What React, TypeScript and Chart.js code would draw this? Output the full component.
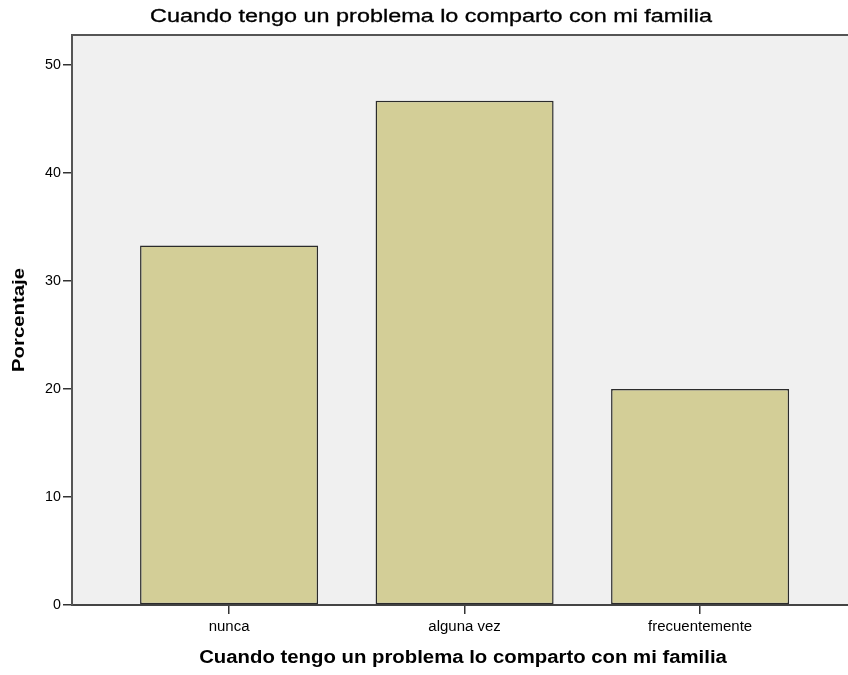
import React, { useEffect, useRef } from "react";
import { Chart, registerables } from "chart.js";

Chart.register(...registerables);

const chartTitle = "Cuando tengo un problema lo comparto con mi familia";
const xAxisTitle = "Cuando tengo un problema lo comparto con mi familia";
const yAxisTitle = "Porcentaje";
const categories = ["nunca", "alguna vez", "frecuentemente"];
const percentages = [33.3, 46.7, 20.0];
const yTicks = [0, 10, 20, 30, 40, 50];

const FONT = "'Liberation Sans', Arial, sans-serif";

function stretchedText(
  ctx: CanvasRenderingContext2D,
  text: string,
  x: number,
  y: number,
  font: string,
  stretch: number,
  align: CanvasTextAlign,
  rotate = 0,
  strokeWidth = 0
) {
  ctx.save();
  ctx.translate(x, y);
  if (rotate) ctx.rotate(rotate);
  ctx.scale(stretch, 1);
  ctx.font = font;
  ctx.fillStyle = "#000";
  ctx.textAlign = align;
  ctx.textBaseline = "middle";
  ctx.fillText(text, 0, 0);
  if (strokeWidth > 0) {
    ctx.strokeStyle = "#000";
    ctx.lineWidth = strokeWidth;
    ctx.strokeText(text, 0, 0);
  }
  ctx.restore();
}

const spssLook = {
  id: "spssLook",
  beforeDraw(chart: any) {
    const { ctx, chartArea } = chart;
    ctx.save();
    ctx.fillStyle = "#f0f0f0";
    ctx.fillRect(chartArea.left, chartArea.top, chartArea.right - chartArea.left, chartArea.bottom - chartArea.top);
    ctx.restore();
  },
  afterDraw(chart: any) {
    const { ctx, chartArea, scales } = chart;
    ctx.save();
    ctx.strokeStyle = "#555";
    ctx.lineWidth = 2;
    ctx.beginPath();
    ctx.moveTo(chartArea.left, chartArea.top);
    ctx.lineTo(chartArea.right, chartArea.top);
    ctx.stroke();
    ctx.restore();

    // chart title
    stretchedText(ctx, chartTitle, 431, 17, `18px ${FONT}`, 1.3, "center", 0, 0.3);
    // x axis title
    stretchedText(ctx, xAxisTitle, (chartArea.left + chartArea.right) / 2 + 3, 658, `bold 18px ${FONT}`, 1.13, "center");
    // y axis title
    stretchedText(ctx, yAxisTitle, 20, (chartArea.top + chartArea.bottom) / 2, `bold 16px ${FONT}`, 1.27, "center", -Math.PI / 2);
    // x tick labels
    categories.forEach((c, i) => {
      stretchedText(ctx, c, scales.x.getPixelForValue(i), 627, `14px ${FONT}`, 1.07, "center");
    });
    // y tick labels
    yTicks.forEach((v) => {
      stretchedText(ctx, String(v), 61, scales.y.getPixelForValue(v), `14px ${FONT}`, 1.02, "right");
    });
  },
};

export default function App() {
  const ref = useRef<HTMLCanvasElement>(null);
  useEffect(() => {
    document.body.style.margin = "0";
    const canvas = ref.current!;
    const chart = new Chart(canvas, {
      type: "bar",
      data: {
        datasets: [
          {
            data: percentages.map((v, i) => ({ x: i, y: v })),
            backgroundColor: "#d3ce97",
            borderColor: "#2b2b2b",
            borderWidth: 1.5,
            borderSkipped: false,
            barPercentage: 0.945,
            categoryPercentage: 0.8,
          },
        ],
      },
      options: {
        animation: false,
        responsive: false,
        maintainAspectRatio: false,
        layout: { padding: { top: 35, left: 0, right: 0, bottom: 0 } },
        plugins: {
          legend: { display: false },
          tooltip: { enabled: false },
          title: { display: false },
        },
        scales: {
          x: {
            type: "linear",
            min: -0.667,
            max: 2.628,
            offset: false,
            bounds: "data",
            afterBuildTicks: (scale: any) => {
              scale.ticks = categories.map((_, i) => ({ value: i }));
            },
            afterFit: (scale: any) => {
              scale.height = 70;
            },
            ticks: { display: false },
            grid: { offset: false, drawOnChartArea: false, drawTicks: true, tickLength: 9, color: "#333", lineWidth: 1.5 },
            border: { display: true, color: "#444", width: 2 },
          },
          y: {
            type: "linear",
            min: 0,
            max: 52.8,
            afterBuildTicks: (scale: any) => {
              scale.ticks = yTicks.map((v) => ({ value: v }));
            },
            afterFit: (scale: any) => {
              scale.width = 72;
            },
            ticks: { display: false },
            grid: { drawOnChartArea: false, drawTicks: true, tickLength: 9, color: "#333", lineWidth: 1.5 },
            border: { display: true, color: "#555", width: 2 },
          },
        },
      },
      plugins: [spssLook],
    });
    return () => chart.destroy();
  }, []);
  return <canvas ref={ref} width={848} height={675} style={{ display: "block" }} />;
}
